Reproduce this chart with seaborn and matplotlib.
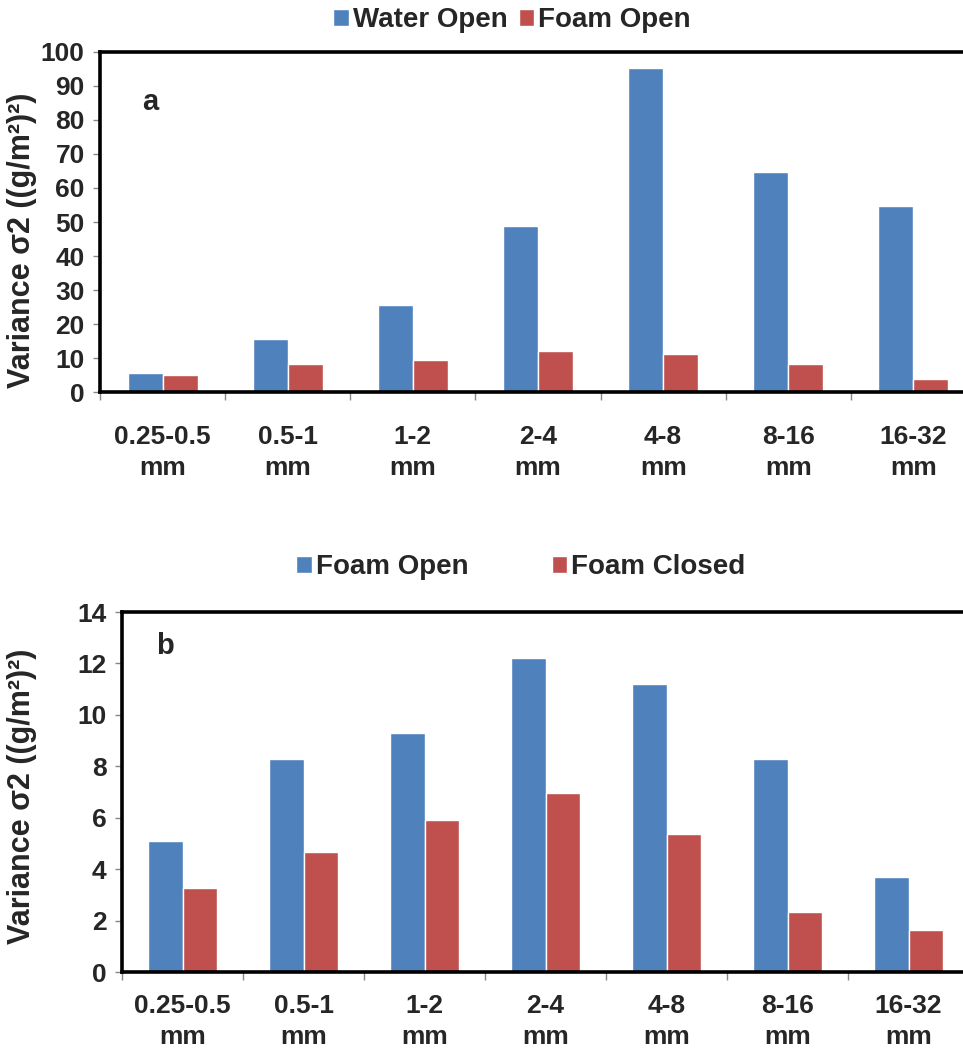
import pandas as pd
import matplotlib
matplotlib.use('Agg')
import matplotlib.pyplot as plt
import seaborn as sns

# size classes
size_classes = ['0.25-0.5', '0.5-1', '1-2', '2-4', '4-8', '8-16', '16-32']
tick_labels = [f'{s}\nmm' for s in size_classes]

# panel a: variance (g/m2)^2
water_open = [5.6, 15.6, 25.6, 48.9, 95.2, 64.8, 54.8]
foam_open = [5.1, 8.3, 9.3, 12.2, 11.2, 8.3, 3.7]

# panel b
foam_closed = [3.25, 4.65, 5.9, 6.95, 5.35, 2.35, 1.65]

BLUE = '#4F81BD'
RED = '#C0504D'

sns.set_theme(style='white')
plt.rcParams['font.family'] = ['Liberation Sans', 'DejaVu Sans']
plt.rcParams['font.weight'] = 'bold'

W, H = 963, 1057
fig = plt.figure(figsize=(W / 100, H / 100), dpi=100)


def px_axes(left, top, right, bottom):
    return fig.add_axes([left / W, 1 - bottom / H, (right - left) / W, (bottom - top) / H])


def long_df(series_a, name_a, series_b, name_b):
    df = pd.DataFrame({'size': size_classes, name_a: series_a, name_b: series_b})
    return df.melt(id_vars='size', var_name='series', value_name='variance')


def style_axes(ax, ymax, ystep, xpad):
    ax.set_xlim(-0.5, len(size_classes) - 0.5)
    ax.set_ylim(0, ymax)
    ax.set_yticks(range(0, ymax + 1, ystep))
    ax.tick_params(axis='y', which='major', length=5, width=1, color='#888888',
                   direction='out', pad=6, labelsize=19, left=True)
    # category boundary ticks (no labels), centred labels via minor ticks
    ax.set_xticks([i - 0.5 for i in range(len(size_classes) + 1)])
    ax.set_xticklabels([])
    ax.set_xticks(range(len(size_classes)), minor=True)
    ax.set_xticklabels(tick_labels, minor=True)
    ax.tick_params(axis='x', which='major', length=6, width=1, color='#888888',
                   direction='out', bottom=True)
    ax.tick_params(axis='x', which='minor', length=0, pad=xpad, labelsize=19)
    for lbl in ax.get_xticklabels(minor=True):
        lbl.set_linespacing(1.35)
    for side in ['left', 'top', 'bottom']:
        ax.spines[side].set_visible(True)
        ax.spines[side].set_color('black')
        ax.spines[side].set_linewidth(2.6)
    ax.spines['right'].set_visible(False)
    ax.set_xlabel('')
    ax.set_ylabel('')
    ax.grid(False)


ylabel = 'Variance σ2 ((g/m²)²)'

# ---- panel a ----
ax_a = px_axes(100, 52, 976, 392)
df_a = long_df(water_open, 'Water Open', foam_open, 'Foam Open')
sns.barplot(data=df_a, x='size', y='variance', hue='series',
            palette=[BLUE, RED], width=0.56, saturation=1, ax=ax_a)
style_axes(ax_a, 100, 10, 24)
ax_a.legend_.remove()
handles, labels = ax_a.get_legend_handles_labels()
fig.legend(handles, labels, loc='center', bbox_to_anchor=(512 / W, 1 - 20 / H),
           ncol=2, frameon=False, handlelength=0.55, handleheight=0.55,
           handletextpad=0.15, columnspacing=0.4, borderaxespad=0,
           prop={'weight': 'bold', 'size': 20})
fig.text(150 / W, 1 - 102 / H, 'a', fontsize=21, fontweight='bold',
         ha='center', va='center')
fig.text(22 / W, 1 - 240 / H, ylabel, rotation=90, fontsize=22,
         fontweight='bold', ha='center', va='center')

# ---- panel b ----
ax_b = px_axes(122, 612, 969, 972)
df_b = long_df(foam_open, 'Foam Open', foam_closed, 'Foam Closed')
sns.barplot(data=df_b, x='size', y='variance', hue='series',
            palette=[BLUE, RED], width=0.57, saturation=1, ax=ax_b)
style_axes(ax_b, 14, 2, 16)
ax_b.legend_.remove()
handles, labels = ax_b.get_legend_handles_labels()
fig.legend(handles, labels, loc='center', bbox_to_anchor=(521 / W, 1 - 567 / H),
           ncol=2, frameon=False, handlelength=0.55, handleheight=0.55,
           handletextpad=0.15, columnspacing=3.0, borderaxespad=0,
           prop={'weight': 'bold', 'size': 20})
fig.text(165 / W, 1 - 646 / H, 'b', fontsize=21, fontweight='bold',
         ha='center', va='center')
fig.text(22 / W, 1 - 796 / H, ylabel, rotation=90, fontsize=22,
         fontweight='bold', ha='center', va='center')

fig.savefig('out.png', dpi=100)
